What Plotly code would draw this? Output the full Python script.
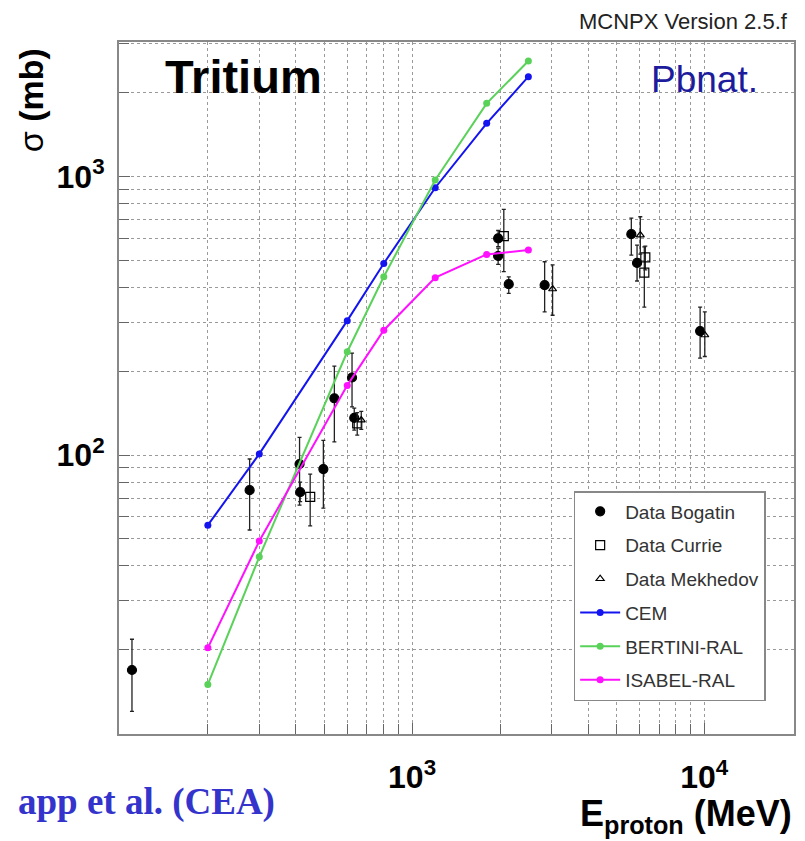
import plotly.graph_objects as go

# ---------------- data ----------------
model_energy = [200, 300, 600, 800, 1200, 1800, 2500]
cem_sigma = [56, 101, 304, 488, 913, 1556, 2288]
bertini_sigma = [15.0, 43.1, 235, 437, 973, 1835, 2604]
isabel_sigma = [20.3, 49.1, 178, 281, 434, 526, 545]

bogatin_energy = [110, 278, 412, 414, 497, 542, 623, 634, 1970, 1970, 2142, 2842, 5627, 5887, 9676]
bogatin_sigma = [16.9, 74.8, 92.9, 73.6, 89.1, 160, 190, 136, 601, 519, 411, 408, 622, 490, 279]
bogatin_err_plus = [4.9, 22, 22.9, 6.4, 23.9, 48.8, 42.5, 11.5, 40, 35, 26, 87, 88.6, 78, 61]
bogatin_err_minus = [4.9, 21, 26.8, 5.6, 24.6, 48.4, 41, 13, 40, 35, 30, 81, 99, 68, 56]

currie_energy = [448, 649, 2060, 6283, 6234]
currie_sigma = [70.8, 130, 612, 513, 452]
currie_err_plus = [14.6, 12, 151, 50, 108]
currie_err_minus = [15.1, 12, 156, 50, 112]

mekhedov_energy = [670, 3026, 6040, 10040]
mekhedov_sigma = [133.6, 395, 617, 270]
mekhedov_err_plus = [10, 87, 101, 57]
mekhedov_err_minus = [10, 77, 90, 44]

x_tickvals = [1000, 10000]
x_ticktext = ["<b>10<sup>3</sup></b>", "<b>10<sup>4</sup></b>"]
x_minor_vals = [200, 300, 400, 500, 600, 700, 800, 900,
                2000, 3000, 4000, 5000, 6000, 7000, 8000, 9000]
y_tickvals = [100, 1000]
y_ticktext = ["<b>10<sup>2</sup></b>", "<b>10<sup>3</sup></b>"]
y_minor_vals = [20, 30, 40, 50, 60, 70, 80, 90,
                200, 300, 400, 500, 600, 700, 800, 900, 2000, 3000]

# ---------------- figure ----------------
fig = go.Figure()


def data_trace(name, x, y, ep, em, symbol, size, group):
    return go.Scatter(
        x=x, y=y, mode="markers", name=name, legendgroup=group,
        marker=dict(symbol=symbol, size=size, color="black",
                    line=dict(color="black", width=1.2)),
        error_y=dict(type="data", symmetric=False, array=ep, arrayminus=em,
                     color="#222222", thickness=1.3, width=2),
    )


fig.add_trace(data_trace("Data Bogatin", bogatin_energy, bogatin_sigma,
                         bogatin_err_plus, bogatin_err_minus, "circle", 9, "g1"))
fig.add_trace(data_trace("Data Currie", currie_energy, currie_sigma,
                         currie_err_plus, currie_err_minus, "square-open", 9, "g2"))
fig.add_trace(data_trace("Data Mekhedov", mekhedov_energy, mekhedov_sigma,
                         mekhedov_err_plus, mekhedov_err_minus, "triangle-up-open", 7, "g3"))


def model_trace(name, y, color, group):
    return go.Scatter(
        x=model_energy, y=y, mode="lines+markers", name=name, legendgroup=group,
        line=dict(color=color, width=2),
        marker=dict(symbol="circle", size=7, color=color),
    )


fig.add_trace(model_trace("CEM", cem_sigma, "#1414f0", "g4"))
fig.add_trace(model_trace("BERTINI-RAL", bertini_sigma, "#5ad25a", "g5"))
fig.add_trace(model_trace("ISABEL-RAL", isabel_sigma, "#ff10ff", "g6"))

# page has an 8px body margin: figure coords = page coords - 8
OFF = 8
W, H = 797, 833
L, R, T, B = 111, 9, 34, 107
pw, ph = W - L - R, H - T - B


def px(xp):
    return (xp - OFF - L) / pw


def py(yp):
    return (H - B - (yp - OFF)) / ph


axis_common = dict(
    type="log",
    showline=True, linecolor="#888888", linewidth=2, mirror=True,
    ticks="inside", ticklen=11, tickcolor="#666666", tickwidth=1,
    showgrid=True, gridcolor="#9a9a9a", gridwidth=1, griddash="dot",
    zeroline=False,
    tickmode="array",
    tickfont=dict(family="Liberation Sans", size=32, color="black"),
)

fig.update_xaxes(**axis_common, range=[1.997, 4.307],
                 tickvals=x_tickvals, ticktext=x_ticktext, ticklabelstandoff=14,
                 minor=dict(tickmode="array", tickvals=x_minor_vals, ticks="inside",
                            ticklen=10, tickcolor="#666666", tickwidth=1,
                            showgrid=True, gridcolor="#9a9a9a", gridwidth=1, griddash="dot"))
fig.update_yaxes(**axis_common, range=[0.998, 3.484],
                 tickvals=y_tickvals, ticktext=y_ticktext, ticklabelstandoff=6,
                 minor=dict(tickmode="array", tickvals=y_minor_vals, ticks="inside",
                            ticklen=10, tickcolor="#666666", tickwidth=1,
                            showgrid=True, gridcolor="#9a9a9a", gridwidth=1, griddash="dot"))

annotations = [
    dict(text="MCNPX Version 2.5.f", x=px(792), y=py(22), xanchor="right", yanchor="middle",
         font=dict(family="Liberation Sans", size=22, color="#222222")),
    dict(text="<b>Tritium</b>", x=px(163), y=py(77), xanchor="left", yanchor="middle",
         font=dict(family="Liberation Sans", size=47, color="black")),
    dict(text="Pbnat.", x=px(762), y=py(79), xanchor="right", yanchor="middle",
         font=dict(family="Liberation Sans", size=37, color="#1c1c9c")),
    dict(text="σ <b>(mb)</b>", x=px(31), y=py(100), xanchor="center", yanchor="middle",
         textangle=-90, font=dict(family="Liberation Sans", size=34, color="black")),
    dict(text="<b>E<sub>proton</sub> (MeV)</b>", x=px(796), y=py(816), xanchor="right",
         yanchor="middle", font=dict(family="Liberation Sans", size=36, color="black")),
    dict(text="<b>app et al. (CEA)</b>", x=px(277), y=py(802), xanchor="right",
         yanchor="middle", font=dict(family="Liberation Serif", size=37, color="#3434cc")),
]
for a in annotations:
    a.update(xref="paper", yref="paper", showarrow=False)

fig.update_layout(
    width=W, height=H,
    margin=dict(l=L, r=R, t=T, b=B, pad=0),
    paper_bgcolor="white", plot_bgcolor="white",
    annotations=annotations,
    showlegend=True,
    legend=dict(
        x=px(575), y=py(491), xanchor="left", yanchor="top",
        bgcolor="white", bordercolor="#888888", borderwidth=1.5,
        font=dict(family="Liberation Sans", size=19, color="#333333"),
        tracegroupgap=6, itemwidth=40,
    ),
)

fig.write_html("out.html")
